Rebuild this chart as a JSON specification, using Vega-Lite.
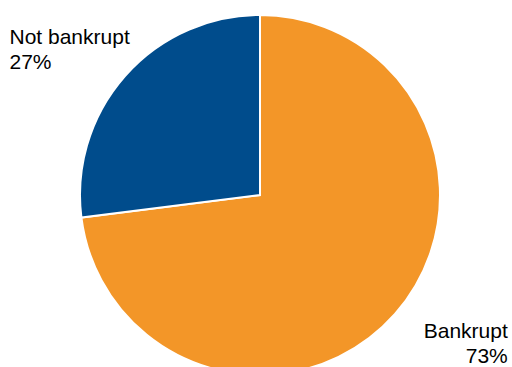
{
  "$schema": "https://vega.github.io/schema/vega-lite/v6.json",
  "autosize": "none",
  "padding": 0,
  "width": 520,
  "height": 390,
  "background": "white",
  "view": {"stroke": null},
  "data": {"values": [
    {"category": "Bankrupt", "share": 73, "label": "Bankrupt\n73%", "ord": 1},
    {"category": "Not bankrupt", "share": 27, "label": "Not bankrupt\n27%", "ord": 2}
  ]},
  "encoding": {
    "theta": {"field": "share", "type": "quantitative", "stack": true},
    "order": {"field": "ord", "type": "quantitative"}
  },
  "layer": [
    {
      "mark": {"type": "arc", "outerRadius": 180, "stroke": "white", "strokeWidth": 2},
      "encoding": {
        "color": {"field": "category", "type": "nominal",
          "scale": {"domain": ["Bankrupt", "Not bankrupt"], "range": ["#F39628", "#004C8C"]},
          "legend": null}
      }
    },
    {
      "mark": {"type": "text", "radius": 222, "align": "left", "baseline": "middle", "dx": -84, "dy": -10, "lineBreak": "\n", "lineHeight": 25, "font": "Liberation Sans", "fontSize": 21, "color": "#000000"},
      "encoding": {"text": {"condition": {"test": "datum.category === 'Not bankrupt'", "field": "label"}, "value": ""}}
    },
    {
      "mark": {"type": "text", "radius": 225, "align": "right", "baseline": "middle", "dx": 79, "dy": -12, "lineBreak": "\n", "lineHeight": 25, "font": "Liberation Sans", "fontSize": 21, "color": "#000000"},
      "encoding": {"text": {"condition": {"test": "datum.category === 'Bankrupt'", "field": "label"}, "value": ""}}
    }
  ]
}
